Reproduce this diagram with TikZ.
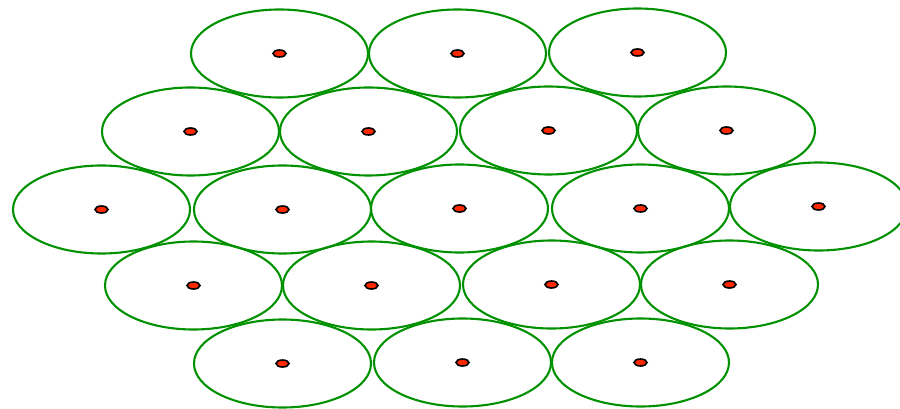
\documentclass[tikz,border=0pt]{standalone}
\usetikzlibrary{shapes.geometric}
\definecolor{cellgreen}{RGB}{0,145,0}
\definecolor{dotred}{RGB}{255,40,0}
\tikzset{
  cell/.style={ellipse, draw=cellgreen, line width=2.1pt, minimum width=177pt, minimum height=88pt, inner sep=0pt},
  site/.style={ellipse, draw=black, fill=dotred, line width=1.6pt, minimum width=13pt, minimum height=7pt, inner sep=0pt}
}
\begin{document}
\begin{tikzpicture}[x=1pt,y=-1pt]
\useasboundingbox (0,0) rectangle (900,409);
\foreach \n/\x/\y in {
  a1/279.5/53.5, a2/457.5/53.5, a3/637.5/52.5,
  b1/190.5/131.5, b2/368.5/131.5, b3/548.5/130.5, b4/726.5/130.5,
  c1/101.5/209.5, c2/282.5/209.5, c3/459.5/208.5, c4/640.5/208.5, c5/818.5/206.5,
  d1/193.5/285.5, d2/371.5/285.5, d3/551.5/284.5, d4/729.5/284.5,
  e1/282.5/363.5, e2/462.5/362.5, e3/640.5/362.5}{
  \node[cell] (cell\n) at (\x,\y) {};
  \node[site] (site\n) at (\x,\y) {};
}
\end{tikzpicture}
\end{document}
